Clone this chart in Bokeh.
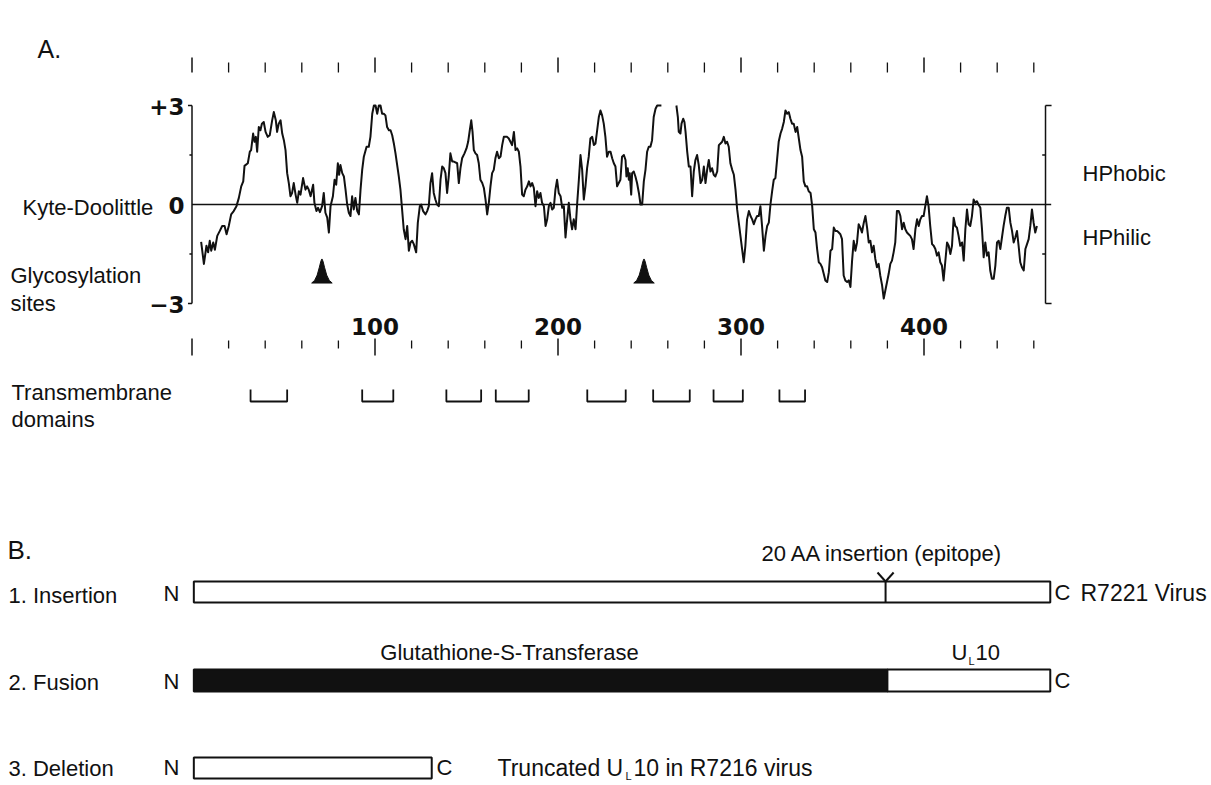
import numpy as np
from bokeh.plotting import figure
from bokeh.models import Range1d
from bokeh.core.properties import value
from bokeh.embed import file_html
from bokeh.resources import INLINE

# ---------------- DATA ----------------
# Kyte-Doolittle hydropathy profile (residue, score); values clipped at +3 by the plot
kd_res_a = [5.0, 6.5, 7.9, 8.8, 9.7, 10.5, 11.6, 12.5, 13.8, 15.2, 16.5, 17.8, 18.9, 20.1, 21.4, 22.8,
            24.3, 25.6, 26.9, 28.0, 28.7, 30.5, 31.6, 32.3, 33.4, 34.2, 34.9, 35.6, 36.5, 37.4, 38.2,
            39.2, 40.2, 41.4, 42.5, 43.8, 44.7, 45.8, 46.5, 47.4, 48.4, 49.3, 50.2, 51.1, 52.0, 52.9,
            53.8, 54.7, 55.6, 56.6, 57.5, 58.4, 59.3, 60.7, 62.0, 62.9, 63.8, 64.8, 66.2, 66.9, 68.0,
            68.9, 69.9, 71.1, 72.0, 72.9, 73.9, 74.8, 75.7, 77.0, 77.9, 78.8, 79.7, 80.4, 81.1, 82.1,
            83.0, 83.9, 84.8, 85.7, 86.6, 87.5, 88.4, 89.3, 90.3, 91.2, 92.1, 93.0, 93.9, 95.4, 96.6,
            97.5, 98.5, 99.4, 100.3, 101.2, 102.1, 103.0, 103.9, 104.8, 105.7, 106.6, 107.6, 108.5,
            109.4, 110.3, 111.2, 112.1, 113.0, 113.9, 114.8, 115.7, 116.7, 117.6, 118.5, 119.4, 120.3,
            121.2, 122.5, 123.4, 124.5, 125.2, 126.3, 127.6, 128.5, 129.4, 130.3, 131.2, 132.1, 133.0,
            133.9, 134.9, 135.8, 136.7, 137.6, 138.5, 139.4, 140.3, 141.2, 142.2, 143.1, 144.9, 145.8,
            146.7, 147.6, 148.9, 150.0, 150.9, 151.8, 152.6, 153.3, 154.0, 154.9, 155.8, 156.7, 157.6,
            158.6, 159.5, 160.4, 161.3, 162.2, 163.1, 164.0, 164.9, 165.8, 166.7, 167.7, 168.6, 169.5,
            170.4, 172.2, 173.1, 174.0, 174.9, 175.9, 176.8, 177.7, 178.6, 179.5, 180.4, 181.3, 182.2,
            183.2, 184.1, 185.0, 185.9, 186.8, 187.7, 188.6, 189.5, 190.4, 191.3, 192.3, 193.2, 194.1,
            195.0, 195.9, 196.8, 197.7, 198.6, 199.5, 200.4, 201.4, 202.3, 203.2, 204.1, 205.0, 205.9,
            206.8, 207.7, 208.6, 209.6, 210.5, 211.4, 212.3, 213.2, 214.1, 215.0, 215.9, 216.8, 217.7,
            218.7, 219.6, 220.5, 221.4, 222.3, 223.2, 224.1, 225.0, 225.9, 226.8, 227.8, 228.7, 229.6,
            230.5, 231.4, 232.3, 233.2, 234.1, 235.0, 236.0, 236.9, 237.4, 238.1, 238.7, 239.2, 240.0,
            240.5, 241.4, 242.3, 243.2, 244.2, 245.1, 246.0, 246.9, 247.8, 248.7, 249.6, 250.5, 251.4,
            252.3, 253.3, 254.2, 256.5]
kd_val_a = [-1.13, -1.80, -1.25, -1.45, -1.10, -1.40, -1.15, -1.37, -0.95, -0.80, -0.65, -0.65, -0.90,
            -0.65, -0.30, -0.20, -0.05, 0.20, 0.55, 0.70, 1.17, 1.25, 1.60, 1.65, 2.15, 1.90, 2.05, 1.60,
            2.35, 2.25, 2.45, 2.50, 2.20, 2.05, 2.10, 2.55, 2.80, 2.55, 2.20, 2.45, 2.55, 2.15, 1.95, 1.65,
            0.95, 0.65, 0.25, 0.35, 0.65, 0.30, 0.05, 0.40, 0.30, 0.80, 0.45, 0.55, 0.45, 0.25, 0.60, 0.05,
            -0.20, -0.10, -0.23, -0.05, 0.35, -0.25, -0.40, -0.85, -0.05, 0.25, 0.75, 0.60, 1.25, 0.90,
            1.20, 0.95, 0.85, 0.45, 0.00, -0.25, -0.35, 0.25, -0.15, 0.20, -0.20, -0.30, 0.45, 1.05, 1.45,
            1.75, 1.75, 2.05, 2.75, 3.00, 3.00, 2.75, 3.00, 3.00, 2.75, 2.75, 2.70, 2.35, 2.25, 2.25, 2.10,
            1.85, 1.55, 1.20, 0.85, 0.45, -0.15, -0.75, -1.05, -0.65, -1.40, -1.15, -1.10, -1.20, -1.45,
            -0.55, -0.05, 0.00, -0.20, -0.30, -0.20, -0.05, 0.65, 0.95, 0.35, 0.15, 0.00, -0.05, 0.75,
            1.15, 1.10, 0.95, 0.35, 0.85, 1.55, 1.30, 1.30, 1.25, 0.65, 1.10, 1.40, 1.55, 1.70, 1.90,
            2.25, 2.55, 2.20, 1.65, 1.55, 1.50, 1.25, 0.75, 0.65, 0.50, 0.15, -0.30, 0.05, 0.55, 0.95,
            1.05, 1.40, 1.60, 1.40, 1.45, 1.80, 2.05, 2.05, 2.00, 1.90, 1.80, 2.20, 1.65, 1.70, 1.60,
            1.15, 0.30, 0.25, 0.45, 0.55, 0.70, 0.55, 0.65, 0.50, -0.05, 0.40, 0.20, 0.35, 0.05, -0.05,
            -0.65, -0.45, -0.05, 0.05, -0.15, -0.10, 0.45, 0.75, 0.35, 0.25, -0.10, -0.05, -1.00, -0.45,
            0.05, -0.45, -0.75, -0.45, -0.75, 0.05, 0.75, 1.50, 1.05, 0.15, 0.55, 1.10, 1.45, 2.00, 2.05,
            1.80, 1.85, 2.25, 2.65, 2.85, 2.70, 2.45, 2.05, 1.45, 1.60, 1.60, 1.40, 1.25, 1.15, 0.55,
            0.65, 0.75, 1.45, 1.50, 1.35, 0.85, 1.10, 0.75, 0.95, 0.30, 0.95, 1.00, 0.85, 0.65, 0.35,
            0.00, 0.00, 0.70, 1.05, 1.60, 1.75, 1.75, 1.95, 2.65, 2.90, 3.00, 3.00]
kd_res_b = [264.7, 265.5, 266.0, 266.9, 267.5, 268.4, 269.1, 269.7, 270.6, 271.5, 272.4, 273.3, 274.2,
            275.1, 276.0, 276.9, 277.9, 278.8, 279.7, 280.6, 281.5, 282.4, 283.3, 284.2, 285.1, 286.0,
            287.0, 287.9, 288.8, 289.7, 290.6, 291.5, 292.4, 293.3, 294.2, 295.2, 296.1, 297.0, 297.9,
            298.8, 299.7, 300.6, 301.5, 302.4, 303.3, 304.3, 305.2, 306.1, 307.0, 307.9, 308.8, 309.7,
            310.6, 311.5, 312.5, 313.4, 314.3, 315.2, 316.1, 317.0, 317.9, 318.8, 319.7, 320.6, 321.6,
            322.5, 323.4, 324.3, 325.2, 326.1, 327.0, 327.9, 328.8, 329.8, 330.7, 331.6, 332.5, 333.4,
            334.3, 335.2, 336.1, 337.0, 338.0, 338.9, 339.8, 340.7, 341.6, 342.5, 343.4, 344.3, 345.2,
            346.1, 347.1, 348.0, 348.9, 349.8, 350.7, 351.6, 352.5, 353.4, 354.3, 355.2, 356.1, 357.0,
            358.0, 358.9, 359.8, 360.7, 361.6, 362.5, 363.4, 364.3, 365.2, 366.1, 367.1, 368.0, 368.9,
            369.8, 370.7, 371.6, 372.5, 373.4, 374.3, 375.2, 376.1, 377.1, 378.0, 378.9, 379.8, 380.7,
            381.6, 382.5, 383.4, 384.3, 385.2, 386.2, 387.1, 388.0, 388.9, 389.8, 390.7, 391.6, 392.5,
            393.4, 394.3, 395.3, 396.2, 397.1, 398.0, 398.9, 399.8, 400.7, 401.6, 402.5, 403.4, 404.4,
            405.3, 406.2, 407.1, 408.0, 408.9, 409.8, 410.7, 411.6, 412.6, 413.5, 414.4, 415.3, 416.2,
            417.1, 418.0, 418.9, 419.8, 420.8, 421.7, 422.6, 423.5, 424.4, 425.3, 426.2, 427.1, 428.0,
            428.9, 429.8, 430.8, 431.7, 432.6, 433.5, 434.4, 435.3, 436.2, 437.1, 438.1, 439.0, 439.9,
            440.8, 441.7, 442.6, 443.5, 444.4, 445.3, 446.3, 447.2, 448.1, 449.0, 449.9, 450.8, 451.7,
            452.6, 453.5, 454.5, 455.4, 456.3, 457.2, 458.1, 459.0, 459.9, 460.8, 461.7]
kd_val_b = [3.00, 2.65, 2.20, 2.15, 2.45, 2.60, 2.50, 2.20, 1.60, 1.15, 1.15, 0.25, 1.00, 1.35, 1.50,
            1.20, 0.65, 0.75, 1.15, 0.65, 1.05, 1.35, 1.00, 1.10, 0.90, 0.85, 1.00, 1.80, 1.85, 1.90,
            2.05, 1.85, 1.90, 1.75, 1.25, 1.05, 0.90, 0.45, -0.15, -0.55, -0.95, -1.35, -1.75, -1.25,
            -0.45, -0.20, -0.35, -0.45, -0.60, -0.45, -0.35, -0.35, -0.05, -0.65, -1.40, -0.95, -0.65,
            -0.55, 0.00, 0.40, 0.75, 0.80, 1.35, 1.90, 2.15, 2.30, 2.50, 2.85, 2.75, 2.80, 2.60, 2.45,
            2.45, 2.20, 2.35, 2.00, 1.65, 1.45, 0.70, 0.55, 0.55, 0.40, 0.35, -0.05, -0.75, -0.85, -1.35,
            -1.75, -1.80, -1.90, -2.10, -2.30, -2.35, -2.05, -1.40, -1.35, -0.70, -0.80, -0.80, -0.85,
            -0.90, -1.05, -2.15, -2.30, -2.35, -2.30, -2.50, -1.70, -1.10, -1.40, -1.15, -0.60, -0.70,
            -0.85, -0.55, -0.35, -0.70, -1.15, -1.10, -1.45, -1.25, -1.65, -1.90, -1.80, -2.15, -2.45,
            -2.85, -2.60, -2.35, -2.10, -1.80, -1.70, -1.45, -1.15, -0.20, -0.20, -0.35, -0.75, -0.55,
            -0.75, -0.85, -0.90, -0.95, -1.05, -1.35, -0.75, -0.45, -0.65, -0.45, -0.35, -0.35, -0.05,
            0.25, -0.05, -0.65, -1.20, -1.25, -1.35, -1.55, -1.45, -1.75, -1.85, -2.30, -1.75, -1.15,
            -1.25, -1.50, -1.25, -0.40, -0.65, -0.70, -0.95, -1.25, -1.15, -1.70, -0.75, -0.15, -0.60,
            -0.65, -0.35, 0.15, 0.05, 0.10, 0.00, -0.10, -0.75, -1.60, -1.15, -1.55, -1.45, -2.00, -2.25,
            -2.25, -1.85, -1.15, -1.10, -1.35, -1.00, -0.65, -0.35, -0.10, -0.10, -0.55, -0.80, -1.15,
            -1.00, -0.80, -1.25, -1.75, -1.90, -2.00, -1.35, -1.20, -1.05, -0.65, -0.15, -0.55, -0.85,
            -0.65]

glyco_sites = [71, 247]
tm_start = [32, 93, 139, 166, 216, 252, 285, 321]
tm_end = [52, 110, 158, 184, 237, 272, 301, 335]

ruler_ticks = [0, 20, 40, 60, 80, 100, 120, 140, 160, 180, 200, 220, 240, 260, 280, 300,
               320, 340, 360, 380, 400, 420, 440, 460]
ruler_labels = ["100", "200", "300", "400"]
ruler_label_pos = [100, 200, 300, 400]
y_labels = ["+3", "0", "\u22123"]
y_label_pos = [3, 0, -3]

protein_length = 469
insertion_site = 379
gst_end = 380
truncated_end = 131

# ---------------- FIGURE ----------------
PX0, PX_PER_RES = 191.5, 1.83     # page-x of residue 0, pixels per residue
W, H = 1208, 784
x0 = (0 - PX0) / PX_PER_RES
x1 = (W - PX0) / PX_PER_RES
KD0, PX_PER_KD = 204.0, 33.0
y1 = KD0 / PX_PER_KD
y0 = (KD0 - H) / PX_PER_KD

p = figure(width=W, height=H, output_backend="svg", toolbar_location=None,
           x_range=Range1d(x0, x1), y_range=Range1d(y0, y1),
           x_axis_location=None, y_axis_location=None, min_border=0)
p.extra_x_ranges = {"px": Range1d(0, W)}
p.extra_y_ranges = {"py": Range1d(H, 0)}
p.xgrid.grid_line_color = None
p.ygrid.grid_line_color = None
p.outline_line_color = None
p.background_fill_color = "white"
p.border_fill_color = "white"

SANS = value("Liberation Sans")
BOLD = value("DejaVu Sans")
BLACK = "#111111"
FS = "22px"

def txt(x, y, s, size=FS, align="left", font=SANS, style="normal"):
    p.text(x=[x], y=[y], text=[s], text_font=font, text_font_size=size, text_align=align,
           text_baseline="middle", text_color=BLACK, text_font_style=style,
           x_range_name="px", y_range_name="py")

# ---- Part A: hydropathy plot ----
p.segment(x0=[0], y0=[0], x1=[469.5], y1=[0], line_color=BLACK, line_width=1.5)
p.segment(x0=[0, 0, 0, 0, 0], y0=[-3, 3, -3, 1.5, -1.5], x1=[0, -2.2, -2.2, -1.4, -1.4],
          y1=[3, 3, -3, 1.5, -1.5], line_color=BLACK, line_width=1.5)
rx = 466.4
p.segment(x0=[rx, rx, rx, rx, rx], y0=[-3, 3, -3, 1.5, -1.5], x1=[rx, rx + 3.3, rx + 3.3, rx - 1.8, rx - 1.8],
          y1=[3, 3, -3, 1.5, -1.5], line_color=BLACK, line_width=1.5)

xs = kd_res_a + [np.nan] + kd_res_b
ys = kd_val_a + [np.nan] + kd_val_b
p.line(x=xs, y=ys, line_color=BLACK, line_width=2, line_join="round")

gx, gy = [], []
dxs = [-5.6, -4.0, -2.6, -1.4, -0.6, 0.0, 0.6, 1.4, 2.6, 4.0, 5.6]
dys = [0.0, 0.08, 0.24, 0.48, 0.66, 0.73, 0.66, 0.48, 0.24, 0.08, 0.0]
for s in glyco_sites:
    gx.append([s + d for d in dxs])
    gy.append([-2.38 + d for d in dys])
p.patches(xs=gx, ys=gy, fill_color=BLACK, line_color=BLACK, line_width=1)

major = [t for t in ruler_ticks if t % 100 == 0]
minor = [t for t in ruler_ticks if t % 100 != 0]
p.segment(x0=major, x1=major, y0=[57] * len(major), y1=[72] * len(major),
          y_range_name="py", line_color=BLACK, line_width=1.5)
p.segment(x0=minor, x1=minor, y0=[62] * len(minor), y1=[72] * len(minor),
          y_range_name="py", line_color=BLACK, line_width=1.3)
p.segment(x0=major, x1=major, y0=[338] * len(major), y1=[355] * len(major),
          y_range_name="py", line_color=BLACK, line_width=1.5)
p.segment(x0=minor, x1=minor, y0=[340] * len(minor), y1=[348] * len(minor),
          y_range_name="py", line_color=BLACK, line_width=1.3)
p.text(x=ruler_label_pos, y=[326] * 4, text=ruler_labels, y_range_name="py",
       text_font=BOLD, text_font_size="23px", text_font_style="bold",
       text_align="center", text_baseline="middle", text_color=BLACK)

for lab, v in zip(y_labels, y_label_pos):
    txt(184, KD0 - v * PX_PER_KD + 1, lab, size="23px", align="right", font=BOLD, style="bold")

tx, ty = [], []
for a, b in zip(tm_start, tm_end):
    tx.append([a, a, b, b])
    ty.append([389, 401, 401, 389])
p.multi_line(xs=tx, ys=ty, y_range_name="py", line_color=BLACK, line_width=1.8)

txt(37, 48, "A.", size="25px")
txt(22, 207, "Kyte-Doolittle")
txt(10, 275, "Glycosylation")
txt(10, 303, "sites")
txt(1082, 173, "HPhobic")
txt(1082, 237, "HPhilic")
txt(11, 392, "Transmembrane")
txt(11, 419, "domains")

# ---- Part B: constructs ----
txt(7, 549, "B.", size="26px")

r1t, r1b = 581, 602
r2t, r2b = 669, 691
r3t, r3b = 757, 778

p.quad(left=[1], right=[protein_length], top=[r1t], bottom=[r1b], y_range_name="py",
       fill_color="white", line_color=BLACK, line_width=2)
p.segment(x0=[insertion_site, insertion_site, insertion_site], y0=[r1b, r1t, r1t],
          x1=[insertion_site, insertion_site - 4.4, insertion_site + 4.4], y1=[r1t, r1t - 9, r1t - 9],
          y_range_name="py", line_color=BLACK, line_width=2)
txt(8, 595, "1.  Insertion")
txt(163, 593, "N")
txt(1054, 592, "C")
txt(1080, 592, "R7221 Virus", size="23px")
txt(882, 553, "20 AA insertion (epitope)", align="center")

p.quad(left=[1], right=[gst_end], top=[r2t], bottom=[r2b], y_range_name="py",
       fill_color=BLACK, line_color=BLACK, line_width=2)
p.quad(left=[gst_end], right=[protein_length], top=[r2t], bottom=[r2b], y_range_name="py",
       fill_color="white", line_color=BLACK, line_width=2)
txt(8, 682, "2.  Fusion")
txt(163, 681, "N")
txt(1054, 680, "C")
txt(509, 652, "Glutathione-S-Transferase", align="center")
txt(951, 652, "U")
txt(968, 660, "L", size="11px")
txt(975, 652, "10")

p.quad(left=[1], right=[truncated_end], top=[r3t], bottom=[r3b], y_range_name="py",
       fill_color="white", line_color=BLACK, line_width=2)
txt(8, 768, "3.  Deletion")
txt(163, 767, "N")
txt(436, 767, "C")
txt(497, 767, "Truncated U", size="23px")
txt(625, 775, "L", size="11px")
txt(633, 767, "10 in R7216 virus", size="23px")

open("out.html", "w").write(file_html(p, INLINE))
